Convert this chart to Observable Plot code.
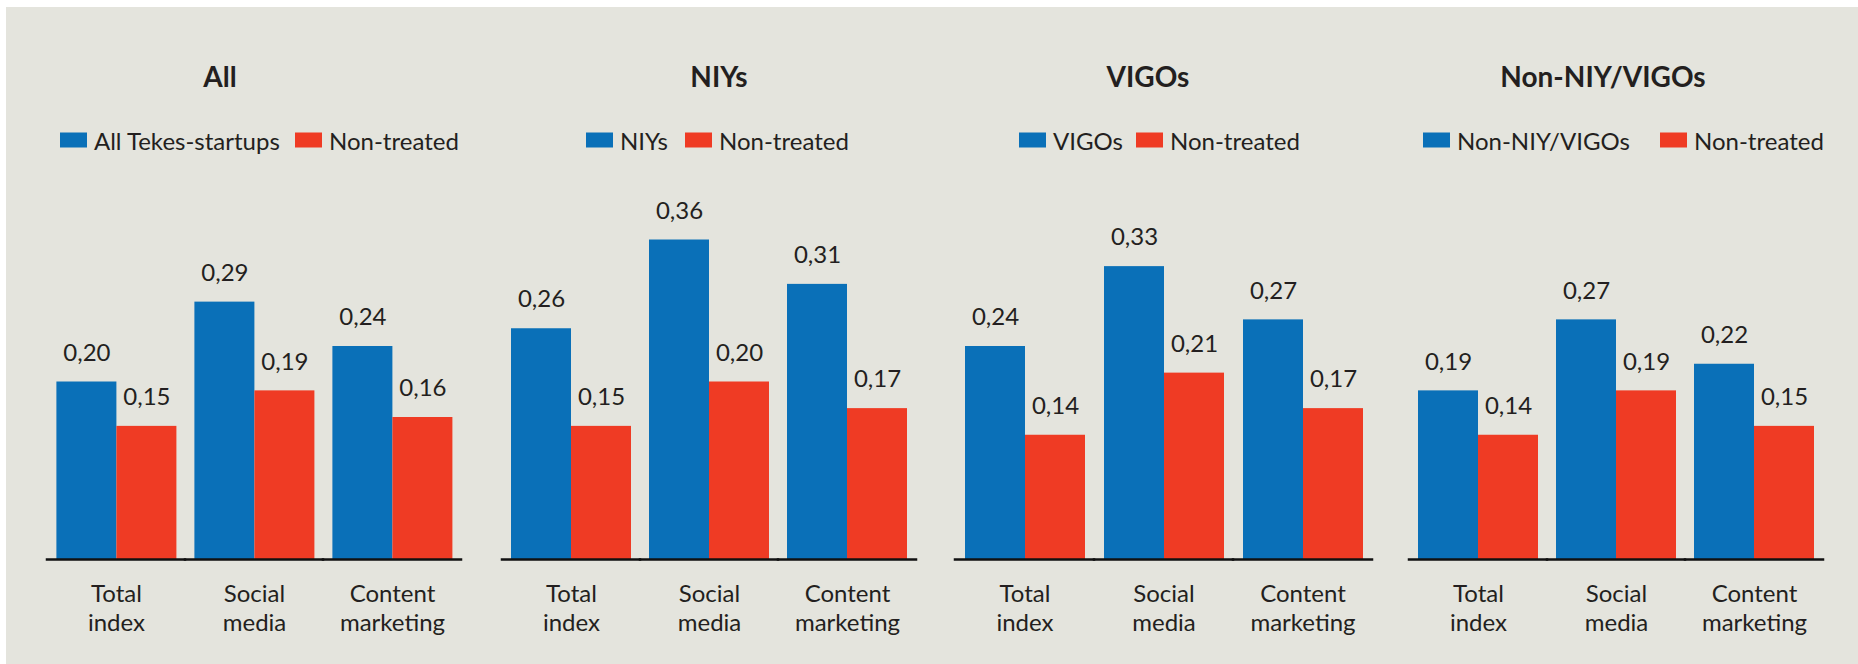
<!DOCTYPE html>
<html>
<head>
<meta charset="utf-8">
<script src="https://cdn.jsdelivr.net/npm/d3@7"></script>
<script src="https://cdn.jsdelivr.net/npm/@observablehq/plot@0.6"></script>
<style>
  html, body { margin: 0; padding: 0; background: #ffffff; }
  #root { position: relative; width: 1858px; height: 664px; overflow: hidden; font-family: Lato, "Open Sans", sans-serif; color: #231f20; }
  #bg { position: absolute; left: 6px; top: 7px; right: 0; bottom: 0; background: #e4e4dd; }
  .title { position: absolute; top: 76px; transform: translate(-50%, -50%); font-weight: 700; font-size: 28px; white-space: nowrap; }
  .leg { position: absolute; top: 140px; transform: translateY(-50%); display: flex; align-items: center; font-size: 24px; white-space: nowrap; }
  .sw { width: 27px; height: 15px; margin-right: 7px; }
  .panel { position: absolute; top: 170px; }
</style>
</head>
<body>
<div id="root"><div id="bg"></div></div>
<script>
// ---- data ----
const categories = ["Total index", "Social media", "Content marketing"];
const categoryLabels = ["Total\nindex", "Social\nmedia", "Content\nmarketing"];
const panelTitles = ["All", "NIYs", "VIGOs", "Non-NIY/VIGOs"];
const treatedNames = ["All Tekes-startups", "NIYs", "VIGOs", "Non-NIY/VIGOs"];
const controlName = "Non-treated";
const allTreated = [0.20, 0.29, 0.24];
const allControl = [0.15, 0.19, 0.16];
const niysTreated = [0.26, 0.36, 0.31];
const niysControl = [0.15, 0.20, 0.17];
const vigosTreated = [0.24, 0.33, 0.27];
const vigosControl = [0.14, 0.21, 0.17];
const otherTreated = [0.19, 0.27, 0.22];
const otherControl = [0.14, 0.19, 0.15];

const treatedSeries = [allTreated, niysTreated, vigosTreated, otherTreated];
const controlSeries = [allControl, niysControl, vigosControl, otherControl];

// ---- styling / layout ----
const BLUE = "#0a70b8";
const RED = "#ef3b24";
const layout = [
  {groups: [54.6, 453], axis: [47, 463], title: 220, leg1: 60, leg2: 295},
  {groups: [510, 908], axis: [500, 915], title: 719, leg1: 586, leg2: 685},
  {groups: [964, 1363], axis: [954, 1372], title: 1148, leg1: 1019, leg2: 1136},
  {groups: [1417, 1815], axis: [1410, 1825], title: 1603, leg1: 1423, leg2: 1660}
];
const fmt = v => v.toFixed(2).replace(".", ",");
const root = document.getElementById("root");

panelTitles.forEach((title, p) => {
  const L = layout[p];
  // title
  const t = document.createElement("div");
  t.className = "title"; t.style.left = L.title + "px"; t.textContent = title;
  root.appendChild(t);
  // legend
  [[L.leg1, BLUE, treatedNames[p]], [L.leg2, RED, controlName]].forEach(([x, c, name]) => {
    const g = document.createElement("div");
    g.className = "leg"; g.style.left = x + "px";
    const s = document.createElement("div"); s.className = "sw"; s.style.background = c;
    const n = document.createElement("span"); n.textContent = name;
    g.appendChild(s); g.appendChild(n);
    root.appendChild(g);
  });

  // chart
  const rows = [];
  categories.forEach((cat, i) => {
    rows.push({cat, series: "treated", value: treatedSeries[p][i]});
    rows.push({cat, series: "control", value: controlSeries[p][i]});
  });
  const svgLeft = L.axis[0] - 10;
  const svgRight = L.axis[1] + 10;
  const width = svgRight - svgLeft;
  const height = 480;
  const baseline = 389;
  const gap = 18.5;
  const chart = Plot.plot({
    width, height,
    marginLeft: L.groups[0] - svgLeft,
    marginRight: svgRight - L.groups[1],
    marginTop: 34,
    marginBottom: height - baseline,
    style: {background: "transparent", fontFamily: "Lato, 'Open Sans', sans-serif", fontSize: "24px", color: "#231f20", overflow: "visible"},
    fx: {domain: categories, paddingInner: 0.133, paddingOuter: 0, axis: null, label: null},
    x: {domain: ["treated", "control"], padding: 0, axis: null, label: null},
    y: {domain: [0, 0.4], axis: null, label: null},
    color: {domain: ["treated", "control"], range: [BLUE, RED]},
    marks: [
      Plot.barY(rows, {fx: "cat", x: "series", y: "value", fill: "series", inset: 0}),
      Plot.text(rows, {fx: "cat", x: "series", y: "value", text: d => fmt(d.value), dy: -29, fontSize: 24, fill: "#231f20"}),
      Plot.ruleY([0], {stroke: "#111", strokeWidth: 2.5, insetLeft: -(gap / 2 + 1), insetRight: -(gap / 2 + 1)}),
      Plot.text(categories, {fx: d => d, text: (d, i) => categoryLabels[i], frameAnchor: "bottom", dy: 48, lineAnchor: "middle", lineHeight: 1.17, fontSize: 24, fill: "#231f20"})
    ]
  });
  chart.classList.add("panel");
  chart.style.left = svgLeft + "px";
  root.appendChild(chart);
});
</script>
</body>
</html>
